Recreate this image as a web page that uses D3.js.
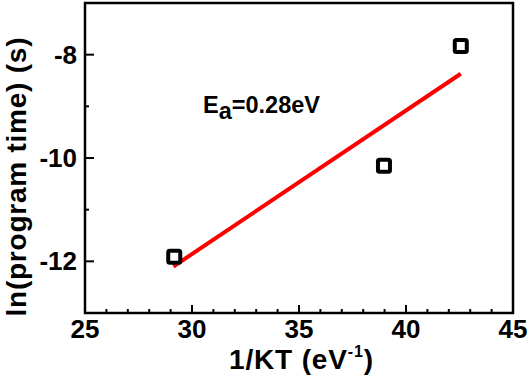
<!DOCTYPE html>
<html>
<head>
<meta charset="utf-8">
<title>Activation energy</title>
<script src="https://cdn.jsdelivr.net/npm/d3@7"></script>
<style>
  body { margin: 0; background: #fff; }
  text { font-family: "Liberation Sans", Arial, sans-serif; font-weight: bold; }
</style>
</head>
<body>
<script>
// measured points
let invKT = [29.17, 38.97, 42.56]
let lnTime = [-11.91, -10.15, -7.83]
// linear fit endpoints
let fitX = [29.13, 42.56]
let fitY = [-12.10, -8.37]
let xTicks = [25, 30, 35, 40, 45]
let yTicks = [-12, -10, -8]

let width = 529, height = 376
let margin = {left: 85, right: 16, top: 3, bottom: 63}

let svg = d3.select('body').append('svg')
    .attr('width', width)
    .attr('height', height)

let x = d3.scaleLinear().domain([25, 45]).range([margin.left, width - margin.right])
let y = d3.scaleLinear().domain([-13, -7]).range([height - margin.bottom, margin.top])

// minor ticks
let xMinor = d3.range(26, 45, 1).filter(d => d % 5 != 0)
let yMinor = [-11, -9]

let g = svg.append('g')
g.selectAll('.xmin').data(xMinor).enter().append('line')
    .attr('x1', d => x(d)).attr('x2', d => x(d))
    .attr('y1', y(-13)).attr('y2', y(-13) - 4)
    .attr('stroke', '#000').attr('stroke-width', 2)
g.selectAll('.xmaj').data(xTicks).enter().append('line')
    .attr('x1', d => x(d)).attr('x2', d => x(d))
    .attr('y1', y(-13)).attr('y2', y(-13) - 8)
    .attr('stroke', '#000').attr('stroke-width', 2)
g.selectAll('.ymin').data(yMinor).enter().append('line')
    .attr('x1', x(25)).attr('x2', x(25) + 4)
    .attr('y1', d => y(d)).attr('y2', d => y(d))
    .attr('stroke', '#000').attr('stroke-width', 2)
g.selectAll('.ymaj').data(yTicks).enter().append('line')
    .attr('x1', x(25)).attr('x2', x(25) + 9)
    .attr('y1', d => y(d)).attr('y2', d => y(d))
    .attr('stroke', '#000').attr('stroke-width', 2)

// tick labels
g.selectAll('.xl').data(xTicks).enter().append('text')
    .attr('x', d => x(d)).attr('y', y(-13) + 25)
    .attr('text-anchor', 'middle')
    .attr('font-size', 26)
    .text(d => d)
g.selectAll('.yl').data(yTicks).enter().append('text')
    .attr('x', x(25) - 8).attr('y', d => y(d) + 9)
    .attr('text-anchor', 'end')
    .attr('font-size', 26)
    .text(d => d)

// frame
svg.append('rect')
    .attr('x', x(25)).attr('y', y(-7))
    .attr('width', x(45) - x(25)).attr('height', y(-13) - y(-7))
    .attr('fill', 'none').attr('stroke', '#000').attr('stroke-width', 2.5)

// fit line
svg.append('line')
    .attr('x1', x(fitX[0])).attr('y1', y(fitY[0]))
    .attr('x2', x(fitX[1])).attr('y2', y(fitY[1]))
    .attr('stroke', '#ff0000').attr('stroke-width', 4)

// square markers
svg.selectAll('.pt').data(invKT).enter().append('rect')
    .attr('x', d => x(d) - 6)
    .attr('y', (d, i) => y(lnTime[i]) - 6)
    .attr('width', 12).attr('height', 12)
    .attr('rx', 1.5)
    .attr('fill', '#fff').attr('stroke', '#000').attr('stroke-width', 4)

// annotation
let ann = svg.append('text').attr('x', 203).attr('y', 113).attr('font-size', 23.5)
ann.append('tspan').text('E')
ann.append('tspan').attr('dy', 6).text('a')
ann.append('tspan').attr('dy', -6).text('=0.28eV')

// axis titles
let xt = svg.append('text')
    .attr('x', 229).attr('y', 369)
    .attr('font-size', 28)
    .attr('textLength', 144).attr('lengthAdjust', 'spacing')
xt.append('tspan').text('1/KT (eV')
xt.append('tspan').attr('dy', -12).attr('font-size', 16).text('-1')
xt.append('tspan').attr('dy', 12).text(')')

svg.append('text')
    .attr('transform', 'translate(26,' + 177 + ') rotate(-90)')
    .attr('text-anchor', 'middle')
    .attr('font-size', 28)
    .attr('textLength', 279).attr('lengthAdjust', 'spacing')
    .text('ln(program time) (s)')
</script>
</body>
</html>
